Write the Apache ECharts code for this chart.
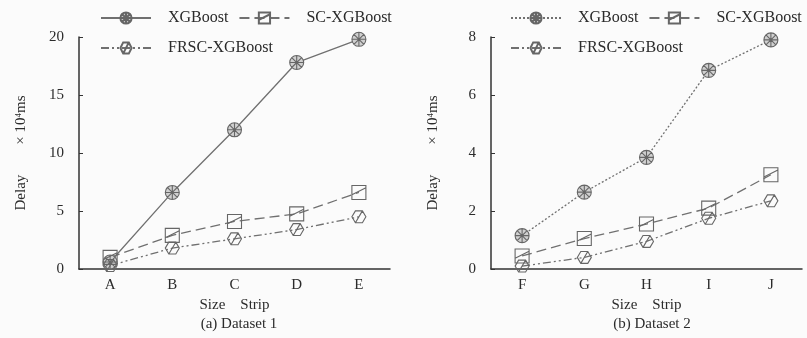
<!DOCTYPE html>
<html>
<head>
<meta charset="utf-8">
<script src="https://cdn.jsdelivr.net/npm/echarts@6/dist/echarts.min.js"></script>
<style>
  html, body { margin: 0; padding: 0; background: #fbfbfb; }
  #chart { width: 807px; height: 338px; }
</style>
</head>
<body>
<div id="chart"></div>
<script>
// 两个数据集的时延对比
const catsA = ['A', 'B', 'C', 'D', 'E']
const catsB = ['F', 'G', 'H', 'I', 'J']
const xgbA = [0.6, 6.6, 12.0, 17.8, 19.8]
const scA = [1.0, 2.9, 4.1, 4.75, 6.6]
const frscA = [0.3, 1.8, 2.6, 3.4, 4.5]
const xgbB = [1.15, 2.65, 3.85, 6.85, 7.9]
const scB = [0.45, 1.05, 1.55, 2.1, 3.25]
const frscB = [0.1, 0.4, 0.95, 1.75, 2.35]

const font = "'Liberation Serif', 'Times New Roman', serif"
const ink = '#2b2b2b'
const lineColor = '#707070'

// 标记形状
const symCircle = 'path://M10,1A9,9 0 1,1 9.99,1Z M3.6,3.6L16.4,16.4 M16.4,3.6L3.6,16.4 M10,1L10,19 M1,10L19,10'
const symSquare = 'path://M1,1L19,1L19,19L1,19Z M1,13L19,4'
const symHex = 'path://M5,1.5L15,1.5L20,10L15,18.5L5,18.5L0,10Z M5,18.5L15,1.5'

const styles = {
  xgbSolid: { type: 'solid' },
  xgbDot: { type: [2, 2] },
  sc: { type: [10, 5] },
  frsc: { type: [8, 3, 2, 3, 2, 3] }
}

function makeSeries (name, data, idx, symbol, dash, fill) {
  return {
    name: name,
    type: 'line',
    xAxisIndex: idx,
    yAxisIndex: idx,
    data: data,
    symbol: symbol,
    symbolSize: 14,
    symbolKeepAspect: true,
    lineStyle: { color: lineColor, width: 1.3, type: dash.type },
    itemStyle: { color: fill, borderColor: '#666', borderWidth: 1.1 },
    emphasis: { disabled: true },
    z: 3
  }
}

function makeX (cats, idx) {
  return {
    type: 'category',
    gridIndex: idx,
    data: cats,
    boundaryGap: true,
    name: 'Size    Strip',
    nameLocation: 'middle',
    nameGap: 28,
    nameTextStyle: { fontFamily: font, fontSize: 15, color: ink },
    axisLine: { lineStyle: { color: '#333', width: 1.5 } },
    axisTick: { inside: true, length: 5, alignWithLabel: false, lineStyle: { color: '#333' } },
    axisLabel: { fontFamily: font, fontSize: 15, color: ink, margin: 9 },
    splitLine: { show: false }
  }
}

function makeY (max, interval, idx) {
  return {
    type: 'value',
    gridIndex: idx,
    min: 0,
    max: max,
    interval: interval,
    name: 'Delay        × 10{sup|4}ms',
    nameLocation: 'middle',
    nameRotate: 90,
    nameGap: 50,
    nameTextStyle: {
      fontFamily: font, fontSize: 15, color: ink,
      rich: { sup: { fontFamily: font, fontSize: 9, color: ink, verticalAlign: 'top', padding: [0, 0, 6, 0] } }
    },
    axisLine: { show: true, lineStyle: { color: '#333', width: 1.5 } },
    axisTick: { show: true, inside: true, length: 4, lineStyle: { color: '#333' } },
    axisLabel: { fontFamily: font, fontSize: 15, color: ink, margin: 15 },
    splitLine: { show: false }
  }
}

function makeLegend (left, top, names) {
  return {
    left: left,
    top: top,
    width: 420,
    orient: 'horizontal',
    padding: 0,
    itemWidth: 50,
    itemHeight: 14,
    itemGap: 10,
    data: names,
    selectedMode: false,
    formatter: n => n.replace(' (b)', ''),
    textStyle: { fontFamily: font, fontSize: 16, color: ink, padding: [0, 0, 0, 12] }
  }
}

const chart = echarts.init(document.getElementById('chart'), null, { renderer: 'canvas' })
chart.setOption({
  backgroundColor: '#fbfbfb',
  animation: false,
  title: [
    { text: '(a) Dataset 1', left: 234, top: 312, textAlign: 'center', textStyle: { fontFamily: font, fontSize: 15, fontWeight: 'normal', color: ink } },
    { text: '(b) Dataset 2', left: 647, top: 312, textAlign: 'center', textStyle: { fontFamily: font, fontSize: 15, fontWeight: 'normal', color: ink } }
  ],
  legend: [
    makeLegend(100, 10, ['XGBoost', 'SC-XGBoost']),
    makeLegend(100, 40, ['FRSC-XGBoost']),
    makeLegend(510, 10, ['XGBoost (b)', 'SC-XGBoost (b)']),
    makeLegend(510, 40, ['FRSC-XGBoost (b)'])
  ],
  grid: [
    { left: 79, top: 37, width: 311, height: 232 },
    { left: 491, top: 37, width: 311, height: 232 }
  ],
  xAxis: [makeX(catsA, 0), makeX(catsB, 1)],
  yAxis: [makeY(20, 5, 0), makeY(8, 2, 1)],
  series: [
    makeSeries('XGBoost', xgbA, 0, symCircle, styles.xgbSolid, '#d0d0d0'),
    makeSeries('SC-XGBoost', scA, 0, symSquare, styles.sc, 'rgba(255,255,255,0)'),
    makeSeries('FRSC-XGBoost', frscA, 0, symHex, styles.frsc, 'rgba(255,255,255,0)'),
    makeSeries('XGBoost (b)', xgbB, 1, symCircle, styles.xgbDot, '#d0d0d0'),
    makeSeries('SC-XGBoost (b)', scB, 1, symSquare, styles.sc, 'rgba(255,255,255,0)'),
    makeSeries('FRSC-XGBoost (b)', frscB, 1, symHex, styles.frsc, 'rgba(255,255,255,0)')
  ]
})
</script>
</body>
</html>
